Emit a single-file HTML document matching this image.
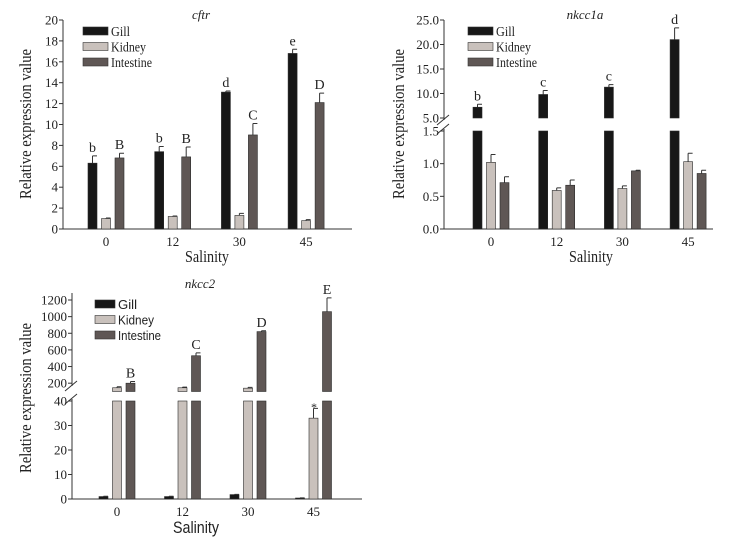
<!DOCTYPE html>
<html><head><meta charset="utf-8">
<style>
html,body{margin:0;padding:0;background:#fff;width:747px;height:541px;overflow:hidden}
svg{display:block;font-family:"Liberation Serif",serif}
text{font-family:"Liberation Serif",serif}
.tk{font-size:13px;fill:#222}
.sans{font-family:"Liberation Sans",sans-serif}
</style></head>
<body>
<svg id="fig" width="747" height="541" viewBox="0 0 747 541"></svg>
<script>
// shared categories
const salinity = ['0','12','30','45'];
const seriesNames = ['Gill','Kidney','Intestine'];
// cftr
const cftrGill = [6.3, 7.4, 13.1, 16.8];
const cftrGillErr = [0.7, 0.5, 0.1, 0.4];
const cftrKidney = [1.0, 1.2, 1.3, 0.8];
const cftrKidneyErr = [0.05, 0.05, 0.2, 0.1];
const cftrIntestine = [6.8, 6.9, 9.0, 12.1];
const cftrIntestineErr = [0.45, 0.95, 1.1, 0.9];
const cftrGillLetters = ['b','b','d','e'];
const cftrIntLetters = ['B','B','C','D'];
const cftrTicks = [0,2,4,6,8,10,12,14,16,18,20];
// nkcc1a
const n1Gill = [7.2, 9.8, 11.3, 21.0];
const n1GillErr = [0.6, 0.8, 0.5, 2.4];
const n1Kidney = [1.02, 0.59, 0.62, 1.03];
const n1KidneyErr = [0.12, 0.04, 0.04, 0.13];
const n1Intestine = [0.71, 0.67, 0.89, 0.85];
const n1IntestineErr = [0.09, 0.08, 0.01, 0.05];
const n1GillLetters = ['b','c','c','d'];
const n1LowTicks = ['0.0','0.5','1.0','1.5'];
const n1HighTicks = ['5.0','10.0','15.0','20.0','25.0'];
// nkcc2
const n2Gill = [1.0, 1.0, 1.8, 0.4];
const n2GillErr = [0.1, 0.1, 0.1, 0.05];
const n2Kidney = [145, 145, 140, 33];
const n2KidneyErr = [12, 8, 10, 4];
const n2Intestine = [200, 530, 820, 1060];
const n2IntestineErr = [20, 35, 10, 165];
const n2IntLetters = ['B','C','D','E'];
const n2LowTicks = [0,10,20,30,40];
const n2HighTicks = [200,400,600,800,1000,1200];

const NS='http://www.w3.org/2000/svg';
const svg=document.getElementById('fig');
const COL=['#171717','#c9c1bc','#5f5755'];
function mk(tag,attrs,parent,text){const e=document.createElementNS(NS,tag);for(const k in attrs)e.setAttribute(k,attrs[k]);if(text!==undefined)e.textContent=text;(parent||svg).appendChild(e);return e;}

function makeScale(segs){return function(v){for(const s of segs){if(v>=s.d0&&v<=s.d1)return s.y0+(v-s.d0)/(s.d1-s.d0)*(s.y1-s.y0);}const s=segs[segs.length-1];return s.y0+(v-s.d0)/(s.d1-s.d0)*(s.y1-s.y0);};}

function chart(o){
  const g=mk('g',{},svg);
  
  
  const ax=o.axisX;
  if(o.breakY){
    const a=mk('line',{x1:ax,y1:o.y0,x2:ax,y2:o.breakY[1],stroke:'#333','stroke-width':1},g);
    
    const b=mk('line',{x1:ax,y1:o.breakY[0],x2:ax,y2:o.top,stroke:'#333','stroke-width':1},g);
    
    for(const yy of o.breakY){const s=mk('line',{x1:ax-7,y1:yy+5,x2:ax+5,y2:yy-5,stroke:'#333','stroke-width':1},g);
      }
  } else {
    const a=mk('line',{x1:ax,y1:o.y0,x2:ax,y2:o.top,stroke:'#333','stroke-width':1},g);
    
  }
  const xa=mk('line',{x1:ax,y1:o.y0,x2:o.axisEnd,y2:o.y0,stroke:'#333','stroke-width':1},g);
  
  for(const t of o.ticks){const y=o.sc(parseFloat(t));
    mk('line',{x1:ax-4,y1:y,x2:ax,y2:y,stroke:'#333'},g);
    const tx=mk('text',{x:ax-5,y:y+4.5,'text-anchor':'end',class:'tk'},g,String(t));
    }
  const offs=[-13.5,0,13.5], bw=9;
  salinity.forEach((c,i)=>{
    const cx=o.x0+i*o.step;
    const tl=mk('text',{x:cx,y:o.y0+17,'text-anchor':'middle',class:'tk'},g,c);
    
    o.series.forEach((s,k)=>{
      const v=s.vals[i], e=s.err[i], bx=cx+offs[k]-bw/2;
      const parts=[];
      if(o.split && v>o.split.lo1){parts.push([0,o.split.lo1]);parts.push([o.split.hi0,v]);}
      else parts.push([0,v]);
      parts.forEach(p=>{const yt=o.sc(p[1]),yb=o.sc(p[0]);
        const r=mk('rect',{x:bx,y:yt,width:bw,height:Math.max(0.8,yb-yt),fill:COL[k],stroke:'#2a2a2a','stroke-width':0.6},g);
        });
      const yt=o.sc(v), ye=o.sc(v+e);
      const el=mk('path',{d:`M${bx+bw/2} ${yt}V${ye}M${bx+bw/2} ${ye}H${bx+bw}`,stroke:'#333','stroke-width':1,fill:'none'},g);
      
      if(s.letters){const lt=mk('text',{x:bx+bw/2,y:ye-4,'text-anchor':'middle','font-size':14,fill:'#222'},g,s.letters[i]);
        }
    });
  });
  const ti=mk('text',{x:o.titleX,y:o.titleY,'text-anchor':'middle','font-size':13,'font-style':'italic',fill:'#222'},g,o.title);
  
  seriesNames.forEach((n,k)=>{const y=o.legY+k*15.5;
    const sw=mk('rect',{x:o.legX,y:y-4,width:o.legW,height:8,fill:COL[k],stroke:'#333','stroke-width':0.6},g);
    
    const lt=mk('text',{x:o.legX+o.legW+3,y:y+5,'font-size':o.legFont,fill:'#222',class:o.sans?'sans':'',textLength:o.legLens[k],lengthAdjust:'spacingAndGlyphs'},g,n);
    });
  const yl=mk('text',{x:0,y:0,transform:`translate(${o.ylX},${o.ylY}) rotate(-90)`,'text-anchor':'middle','font-size':17,fill:'#222',textLength:o.ylLen,lengthAdjust:'spacingAndGlyphs'},g,'Relative expression value');
  
  const xl=mk('text',{x:o.xlX,y:o.xlY,'text-anchor':'middle','font-size':17,fill:'#222',class:o.sans?'sans':'',textLength:o.xlLen,lengthAdjust:'spacingAndGlyphs'},g,'Salinity');
  
}

chart({name:'cftr-chart',axisX:63,y0:229,top:20,axisEnd:352,x0:106,step:66.7,
  sc:makeScale([{d0:0,d1:20,y0:229,y1:20}]),ticks:cftrTicks,
  series:[{key:'gill',vals:cftrGill,err:cftrGillErr,letters:cftrGillLetters},
          {key:'kidney',vals:cftrKidney,err:cftrKidneyErr},
          {key:'intestine',vals:cftrIntestine,err:cftrIntestineErr,letters:cftrIntLetters}],
  title:'cftr',titleX:201,titleY:19,legX:83,legY:31,legW:25,legFont:14,legLens:[19,35,41],
  ylX:31,ylY:124,ylLen:150,xlX:207,xlY:262,xlLen:44});

chart({name:'nkcc1a-chart',axisX:444,y0:229,top:20,axisEnd:713,x0:491,step:65.7,breakY:[120,129],
  sc:makeScale([{d0:0,d1:1.5,y0:229,y1:131},{d0:5,d1:25,y0:118,y1:20}]),
  split:{lo1:1.5,hi0:5},ticks:n1LowTicks.concat(n1HighTicks),
  series:[{key:'gill',vals:n1Gill,err:n1GillErr,letters:n1GillLetters},
          {key:'kidney',vals:n1Kidney,err:n1KidneyErr},
          {key:'intestine',vals:n1Intestine,err:n1IntestineErr}],
  title:'nkcc1a',titleX:585,titleY:19,legX:468,legY:31,legW:25,legFont:14,legLens:[19,35,41],
  ylX:404,ylY:124,ylLen:150,xlX:591,xlY:262,xlLen:44});

chart({name:'nkcc2-chart',axisX:72,y0:499,top:293,axisEnd:362,x0:117,step:65.5,breakY:[386,399],sans:true,
  sc:makeScale([{d0:0,d1:40,y0:499,y1:401},{d0:100,d1:1200,y0:391.5,y1:300}]),
  split:{lo1:40,hi0:100},ticks:n2LowTicks.concat(n2HighTicks),
  series:[{key:'gill',vals:n2Gill,err:n2GillErr},
          {key:'kidney',vals:n2Kidney,err:n2KidneyErr},
          {key:'intestine',vals:n2Intestine,err:n2IntestineErr,letters:n2IntLetters}],
  title:'nkcc2',titleX:200,titleY:288,legX:95,legY:304,legW:20,legFont:13,legLens:[19,36,43],
  ylX:31,ylY:398,ylLen:150,xlX:196,xlY:533,xlLen:46});
const ast=mk('text',{x:314,y:411,'text-anchor':'middle','font-size':12,fill:'#222'},svg,'*');


</script>
</body></html>
